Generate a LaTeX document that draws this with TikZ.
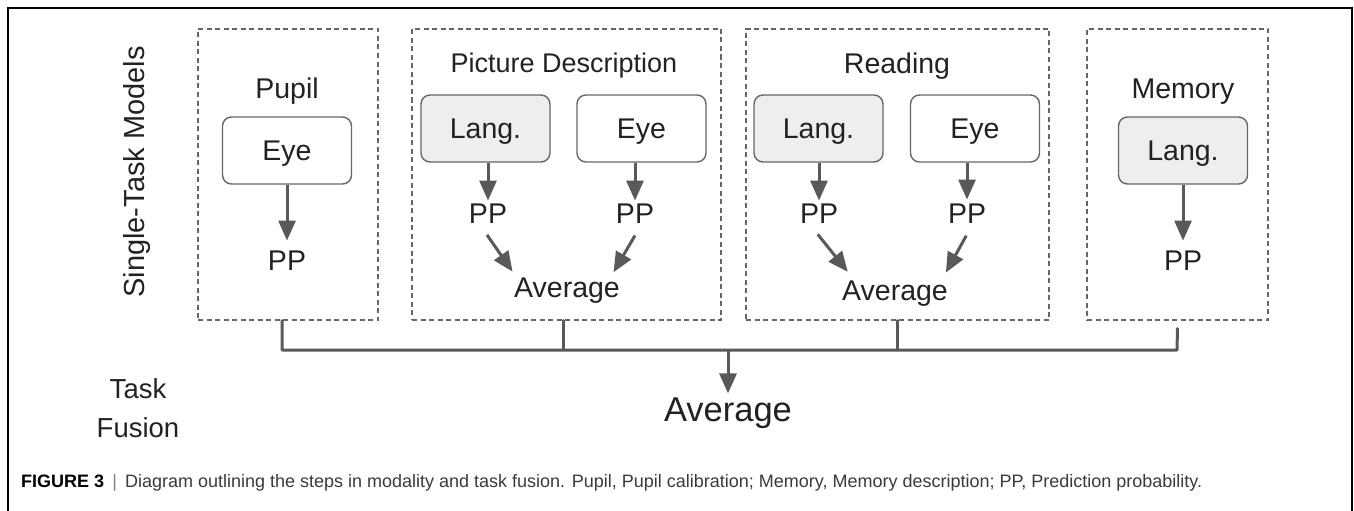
\documentclass[tikz,border=0pt]{standalone}
\usepackage{fontspec}
\setmainfont{Liberation Sans}
\usetikzlibrary{arrows.meta, positioning, calc}

\definecolor{framegray}{HTML}{666666}
\definecolor{arrowgray}{HTML}{595959}
\definecolor{langfill}{HTML}{EEEEEE}
\definecolor{inkdark}{HTML}{222222}
\definecolor{capgray}{HTML}{3A3A3A}

\begin{document}
\begin{tikzpicture}[x=1pt, y=-1pt,
	taskbox/.style={draw=framegray, dashed, dash pattern=on 5pt off 3.5pt, line width=1.2pt, minimum width=#1, minimum height=291pt, inner sep=0pt},
	modbox/.style={draw=framegray, rounded corners=9pt, line width=1.4pt, minimum width=129pt, minimum height=67pt, inner sep=0pt, text height=20.5pt, text depth=0pt},
	langbox/.style={modbox, fill=langfill},
	lbl/.style={inner sep=0pt, text height=20.5pt, text depth=0pt, text=inkdark, font=\fontsize{28.5}{34}\selectfont},
	arr/.style={draw=arrowgray, line width=3pt, -{Triangle[length=20pt, width=17pt]}},
	bus/.style={draw=arrowgray, line width=3pt, line cap=round, line join=round},
	every node/.append style={text=inkdark, font=\fontsize{28.5}{34}\selectfont}]

	\useasboundingbox (0,0) rectangle (1354,511);
	\draw[line width=1.5pt] (8,511) -- (8,8) -- (1352,8) -- (1352,511);

	\node [rotate=90, font=\fontsize{29}{34}\selectfont] (single) at (137,172) {Single-Task Models};
	\node [align=center, font=\fontsize{27.5}{39}\selectfont] (fusion) at (138,408) {Task\\Fusion};

	% task boxes
	\node [taskbox=180pt] (pupilbox)  at (288,174.5)  {};
	\node [taskbox=309pt] (picbox)    at (566.5,174.5) {};
	\node [taskbox=303pt] (readbox)   at (897.5,174.5) {};
	\node [taskbox=181pt] (memorybox) at (1177.5,174.5) {};

	% pupil
	\node [anchor=base] (pupiltitle) at (287,98) {Pupil};
	\node [modbox] (pupileye) at (287,150.5) {Eye};
	\node [lbl] (pupilpp) at (287,260) {PP};
	\draw[arr, shorten >=9pt] (pupileye) -- (pupilpp);

	% picture description
	\node [anchor=base, font=\fontsize{27}{34}\selectfont] (pictitle) at (564,73) {Picture Description};
	\node [langbox] (piclang) at (485.5,128.5) {Lang.};
	\node [modbox]  (piceye)  at (641.5,128.5) {Eye};
	\node [lbl] (piclangpp) at (488,213) {PP};
	\node [lbl] (piceyepp)  at (635,213) {PP};
	\node [lbl] (picavg)    at (567,287) {Average};
	\draw[arr, shorten >=2pt] (piclang.south -| piclangpp) -- (piclangpp);
	\draw[arr, shorten >=2pt] (piceye.south -| piceyepp) -- (piceyepp);
	\draw[arr, shorten <=14pt, shorten >=6pt] ([xshift=-9pt]piclangpp.south) -- ([xshift=2pt]picavg.north west);
	\draw[arr, shorten <=14pt, shorten >=5pt] ([xshift=7pt]piceyepp.south) -- ([xshift=-9pt]picavg.north east);

	% reading
	\node [anchor=base] (readtitle) at (897,74) {Reading};
	\node [langbox] (readlang) at (818.5,128.5) {Lang.};
	\node [modbox]  (readeye)  at (975,128.5) {Eye};
	\node [lbl] (readlangpp) at (819,213) {PP};
	\node [lbl] (readeyepp)  at (967,213) {PP};
	\node [lbl] (readavg)    at (895,290) {Average};
	\draw[arr, shorten >=2pt] (readlang.south -| readlangpp) -- (readlangpp);
	\draw[arr, shorten >=3pt] (readeye.south -| readeyepp) -- (readeyepp);
	\draw[arr, shorten <=14pt, shorten >=10pt] ([xshift=-10pt]readlangpp.south) -- ([xshift=12pt]readavg.north west);
	\draw[arr, shorten <=14pt, shorten >=8pt] ([xshift=6pt]readeyepp.south) -- ([xshift=-6pt]readavg.north east);

	% memory
	\node [anchor=base] (memtitle) at (1183,98) {Memory};
	\node [langbox] (memlang) at (1183,150.5) {Lang.};
	\node [lbl] (mempp) at (1183,260) {PP};
	\draw[arr, shorten >=9pt] (memlang) -- (mempp);

	% task fusion
	\coordinate (busl) at (282,350);
	\coordinate (busr) at (1177,350);
	\node [lbl, text height=24.7pt, font=\fontsize{34.5}{40}\selectfont] (fuseavg) at (728,409) {Average};
	\draw[bus] (pupilbox.south -| busl) -- (busl) -- (busr) -- ([yshift=-8pt]memorybox.south);
	\draw[bus] (picbox.south -| 563,0) -- (563,350);
	\draw[bus] (readbox.south) -- (readbox.south |- busl);
	\draw[arr, shorten >=3pt] (fuseavg |- busl) -- (fuseavg);

	\node [anchor=base west, inner sep=0pt, font=\fontsize{18}{21}\selectfont, text=capgray] (caption) at (21,487)
		{\textbf{\color{black}FIGURE 3}\hspace{0.45em}{\color{gray}|}\hspace{0.45em}Diagram outlining the steps in modality and task fusion. Pupil, Pupil calibration; Memory, Memory description; PP, Prediction probability.};
\end{tikzpicture}
\end{document}
